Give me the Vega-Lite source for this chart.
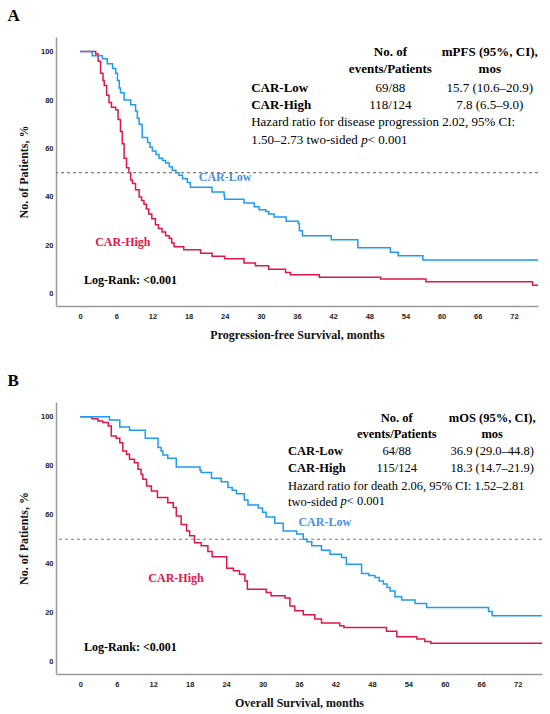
{
  "$schema": "https://vega.github.io/schema/vega-lite/v6.json",
  "background": "white",
  "padding": {"left": 7, "top": 7, "right": 5, "bottom": 5},
  "datasets": {
    "pfs": [
      {"group": "CAR-High", "month": 0, "pct": 100},
      {"group": "CAR-High", "month": 2.6, "pct": 99},
      {"group": "CAR-High", "month": 3.0, "pct": 96},
      {"group": "CAR-High", "month": 3.4, "pct": 91},
      {"group": "CAR-High", "month": 3.8, "pct": 88},
      {"group": "CAR-High", "month": 4.0, "pct": 86},
      {"group": "CAR-High", "month": 4.4, "pct": 82},
      {"group": "CAR-High", "month": 4.8, "pct": 79},
      {"group": "CAR-High", "month": 5.2, "pct": 77},
      {"group": "CAR-High", "month": 5.9, "pct": 76},
      {"group": "CAR-High", "month": 6.3, "pct": 72},
      {"group": "CAR-High", "month": 6.7, "pct": 67},
      {"group": "CAR-High", "month": 7.0, "pct": 62},
      {"group": "CAR-High", "month": 7.3, "pct": 56},
      {"group": "CAR-High", "month": 7.7, "pct": 52},
      {"group": "CAR-High", "month": 8.1, "pct": 50},
      {"group": "CAR-High", "month": 8.4, "pct": 47},
      {"group": "CAR-High", "month": 8.7, "pct": 45.5},
      {"group": "CAR-High", "month": 9.2, "pct": 43},
      {"group": "CAR-High", "month": 9.8, "pct": 40},
      {"group": "CAR-High", "month": 10.2, "pct": 38.5},
      {"group": "CAR-High", "month": 10.6, "pct": 37},
      {"group": "CAR-High", "month": 11.0, "pct": 35},
      {"group": "CAR-High", "month": 11.4, "pct": 33},
      {"group": "CAR-High", "month": 11.9, "pct": 31},
      {"group": "CAR-High", "month": 12.5, "pct": 28.5},
      {"group": "CAR-High", "month": 13.0, "pct": 27},
      {"group": "CAR-High", "month": 13.6, "pct": 25.5},
      {"group": "CAR-High", "month": 14.2, "pct": 24},
      {"group": "CAR-High", "month": 14.8, "pct": 23},
      {"group": "CAR-High", "month": 15.2, "pct": 21},
      {"group": "CAR-High", "month": 15.6, "pct": 19.5},
      {"group": "CAR-High", "month": 17.2, "pct": 18.2},
      {"group": "CAR-High", "month": 20.0, "pct": 16.8},
      {"group": "CAR-High", "month": 21.9, "pct": 15.5},
      {"group": "CAR-High", "month": 24.0, "pct": 14.5},
      {"group": "CAR-High", "month": 27.2, "pct": 12.7},
      {"group": "CAR-High", "month": 29.1, "pct": 11.6},
      {"group": "CAR-High", "month": 31.3, "pct": 10.2},
      {"group": "CAR-High", "month": 34.1, "pct": 8.8},
      {"group": "CAR-High", "month": 34.9, "pct": 7.9},
      {"group": "CAR-High", "month": 39.7, "pct": 6.9},
      {"group": "CAR-High", "month": 49.9, "pct": 6.1},
      {"group": "CAR-High", "month": 57.4, "pct": 5.0},
      {"group": "CAR-High", "month": 75.1, "pct": 3.6},
      {"group": "CAR-High", "month": 76, "pct": 3.6},
      {"group": "CAR-Low", "month": 0, "pct": 100},
      {"group": "CAR-Low", "month": 2.0, "pct": 98.3},
      {"group": "CAR-Low", "month": 3.7, "pct": 97},
      {"group": "CAR-Low", "month": 4.5, "pct": 95},
      {"group": "CAR-Low", "month": 5.4, "pct": 93},
      {"group": "CAR-Low", "month": 5.9, "pct": 91},
      {"group": "CAR-Low", "month": 6.2, "pct": 88},
      {"group": "CAR-Low", "month": 6.5, "pct": 85},
      {"group": "CAR-Low", "month": 6.7, "pct": 83},
      {"group": "CAR-Low", "month": 7.3, "pct": 80},
      {"group": "CAR-Low", "month": 8.4, "pct": 78},
      {"group": "CAR-Low", "month": 9.2, "pct": 75.5},
      {"group": "CAR-Low", "month": 9.5, "pct": 72.5},
      {"group": "CAR-Low", "month": 9.8, "pct": 70},
      {"group": "CAR-Low", "month": 10.3, "pct": 64.5},
      {"group": "CAR-Low", "month": 11.2, "pct": 62.5},
      {"group": "CAR-Low", "month": 11.6, "pct": 60.5},
      {"group": "CAR-Low", "month": 12.0, "pct": 59},
      {"group": "CAR-Low", "month": 12.6, "pct": 57.5},
      {"group": "CAR-Low", "month": 13.1, "pct": 56},
      {"group": "CAR-Low", "month": 13.7, "pct": 55},
      {"group": "CAR-Low", "month": 14.2, "pct": 54},
      {"group": "CAR-Low", "month": 14.8, "pct": 52.5},
      {"group": "CAR-Low", "month": 15.3, "pct": 51},
      {"group": "CAR-Low", "month": 15.9, "pct": 50},
      {"group": "CAR-Low", "month": 16.4, "pct": 49},
      {"group": "CAR-Low", "month": 17.0, "pct": 47.5},
      {"group": "CAR-Low", "month": 17.8, "pct": 46},
      {"group": "CAR-Low", "month": 18.3, "pct": 44},
      {"group": "CAR-Low", "month": 21.9, "pct": 42},
      {"group": "CAR-Low", "month": 23.9, "pct": 40.5},
      {"group": "CAR-Low", "month": 24.0, "pct": 39},
      {"group": "CAR-Low", "month": 27.2, "pct": 37.5},
      {"group": "CAR-Low", "month": 28.9, "pct": 36},
      {"group": "CAR-Low", "month": 29.7, "pct": 34.7},
      {"group": "CAR-Low", "month": 30.8, "pct": 34},
      {"group": "CAR-Low", "month": 31.3, "pct": 33},
      {"group": "CAR-Low", "month": 32.2, "pct": 31.7},
      {"group": "CAR-Low", "month": 34.2, "pct": 30},
      {"group": "CAR-Low", "month": 36.2, "pct": 29},
      {"group": "CAR-Low", "month": 36.4, "pct": 26},
      {"group": "CAR-Low", "month": 36.9, "pct": 24},
      {"group": "CAR-Low", "month": 41.7, "pct": 22.3},
      {"group": "CAR-Low", "month": 46.1, "pct": 19},
      {"group": "CAR-Low", "month": 51.5, "pct": 17.2},
      {"group": "CAR-Low", "month": 52.8, "pct": 15.7},
      {"group": "CAR-Low", "month": 56.9, "pct": 14},
      {"group": "CAR-Low", "month": 76, "pct": 14}
    ],
    "os": [
      {"group": "CAR-High", "month": 0, "pct": 100},
      {"group": "CAR-High", "month": 1.9, "pct": 99.2},
      {"group": "CAR-High", "month": 2.9, "pct": 98.2},
      {"group": "CAR-High", "month": 3.7, "pct": 97.6},
      {"group": "CAR-High", "month": 4.6, "pct": 96.2},
      {"group": "CAR-High", "month": 5.1, "pct": 92.1},
      {"group": "CAR-High", "month": 5.9, "pct": 91.2},
      {"group": "CAR-High", "month": 6.5, "pct": 89.4},
      {"group": "CAR-High", "month": 7.0, "pct": 86},
      {"group": "CAR-High", "month": 7.6, "pct": 84.7},
      {"group": "CAR-High", "month": 8.1, "pct": 82.6},
      {"group": "CAR-High", "month": 8.9, "pct": 81.2},
      {"group": "CAR-High", "month": 9.5, "pct": 78.6},
      {"group": "CAR-High", "month": 10.0, "pct": 76.5},
      {"group": "CAR-High", "month": 10.3, "pct": 74.5},
      {"group": "CAR-High", "month": 10.9, "pct": 71.7},
      {"group": "CAR-High", "month": 11.7, "pct": 69.7},
      {"group": "CAR-High", "month": 12.7, "pct": 67},
      {"group": "CAR-High", "month": 14.4, "pct": 64.9},
      {"group": "CAR-High", "month": 15.3, "pct": 62.9},
      {"group": "CAR-High", "month": 15.8, "pct": 59.5},
      {"group": "CAR-High", "month": 16.6, "pct": 56},
      {"group": "CAR-High", "month": 17.5, "pct": 53.4},
      {"group": "CAR-High", "month": 18.0, "pct": 51.4},
      {"group": "CAR-High", "month": 18.8, "pct": 48.6},
      {"group": "CAR-High", "month": 19.9, "pct": 47.3},
      {"group": "CAR-High", "month": 21.0, "pct": 45},
      {"group": "CAR-High", "month": 21.7, "pct": 42.8},
      {"group": "CAR-High", "month": 24.1, "pct": 38.2},
      {"group": "CAR-High", "month": 25.2, "pct": 37.1},
      {"group": "CAR-High", "month": 26.2, "pct": 35.7},
      {"group": "CAR-High", "month": 27.1, "pct": 33},
      {"group": "CAR-High", "month": 27.5, "pct": 29.6},
      {"group": "CAR-High", "month": 30.6, "pct": 28.3},
      {"group": "CAR-High", "month": 31.4, "pct": 26.9},
      {"group": "CAR-High", "month": 33.7, "pct": 26},
      {"group": "CAR-High", "month": 34.5, "pct": 22.8},
      {"group": "CAR-High", "month": 35.3, "pct": 20.8},
      {"group": "CAR-High", "month": 36.7, "pct": 19.2},
      {"group": "CAR-High", "month": 38.6, "pct": 17.4},
      {"group": "CAR-High", "month": 39.7, "pct": 15.8},
      {"group": "CAR-High", "month": 42.7, "pct": 14.7},
      {"group": "CAR-High", "month": 43.4, "pct": 14.0},
      {"group": "CAR-High", "month": 50.4, "pct": 12.4},
      {"group": "CAR-High", "month": 52.1, "pct": 10.2},
      {"group": "CAR-High", "month": 55.4, "pct": 9.3},
      {"group": "CAR-High", "month": 56.7, "pct": 8.3},
      {"group": "CAR-High", "month": 57.7, "pct": 7.5},
      {"group": "CAR-High", "month": 76, "pct": 7.5},
      {"group": "CAR-Low", "month": 0, "pct": 100},
      {"group": "CAR-Low", "month": 4.8, "pct": 98.7},
      {"group": "CAR-Low", "month": 6.5, "pct": 95.8},
      {"group": "CAR-Low", "month": 8.1, "pct": 94.5},
      {"group": "CAR-Low", "month": 10.7, "pct": 91.2},
      {"group": "CAR-Low", "month": 12.8, "pct": 87.4},
      {"group": "CAR-Low", "month": 13.3, "pct": 86},
      {"group": "CAR-Low", "month": 13.6, "pct": 84.4},
      {"group": "CAR-Low", "month": 14.4, "pct": 83},
      {"group": "CAR-Low", "month": 15.8, "pct": 79.5},
      {"group": "CAR-Low", "month": 19.7, "pct": 78.1},
      {"group": "CAR-Low", "month": 19.9, "pct": 77.2},
      {"group": "CAR-Low", "month": 21.6, "pct": 74.9},
      {"group": "CAR-Low", "month": 23.2, "pct": 73.5},
      {"group": "CAR-Low", "month": 24.3, "pct": 71.1},
      {"group": "CAR-Low", "month": 25.0, "pct": 70},
      {"group": "CAR-Low", "month": 25.7, "pct": 68.6},
      {"group": "CAR-Low", "month": 27.0, "pct": 66},
      {"group": "CAR-Low", "month": 27.6, "pct": 64},
      {"group": "CAR-Low", "month": 29.3, "pct": 62.7},
      {"group": "CAR-Low", "month": 30.0, "pct": 61},
      {"group": "CAR-Low", "month": 30.6, "pct": 59.1},
      {"group": "CAR-Low", "month": 32.0, "pct": 56.5},
      {"group": "CAR-Low", "month": 33.4, "pct": 53.4},
      {"group": "CAR-Low", "month": 35.6, "pct": 52.1},
      {"group": "CAR-Low", "month": 36.7, "pct": 50},
      {"group": "CAR-Low", "month": 37.3, "pct": 49},
      {"group": "CAR-Low", "month": 38.1, "pct": 47.3},
      {"group": "CAR-Low", "month": 39.7, "pct": 45.5},
      {"group": "CAR-Low", "month": 41.1, "pct": 43.9},
      {"group": "CAR-Low", "month": 43.0, "pct": 42.5},
      {"group": "CAR-Low", "month": 43.8, "pct": 39.8},
      {"group": "CAR-Low", "month": 46.3, "pct": 36},
      {"group": "CAR-Low", "month": 47.5, "pct": 35.2},
      {"group": "CAR-Low", "month": 48.5, "pct": 34.4},
      {"group": "CAR-Low", "month": 49.2, "pct": 33},
      {"group": "CAR-Low", "month": 49.9, "pct": 31.7},
      {"group": "CAR-Low", "month": 50.5, "pct": 30.3},
      {"group": "CAR-Low", "month": 51.0, "pct": 28.9},
      {"group": "CAR-Low", "month": 51.8, "pct": 26.5},
      {"group": "CAR-Low", "month": 52.9, "pct": 25.2},
      {"group": "CAR-Low", "month": 55.1, "pct": 23.8},
      {"group": "CAR-Low", "month": 57.0, "pct": 22.1},
      {"group": "CAR-Low", "month": 67.2, "pct": 20.5},
      {"group": "CAR-Low", "month": 67.8, "pct": 18.8},
      {"group": "CAR-Low", "month": 76, "pct": 18.8}
    ]
  },
  "spacing": 31,
  "vconcat": [
    {
      "width": 482,
      "height": 269,
      "title": {"text": "A", "anchor": "start", "font": "Liberation Serif", "fontSize": 17, "fontWeight": "bold", "color": "black", "offset": 12, "dx": -10},
      "layer": [
        {
          "data": {"name": "pfs"},
          "mark": {"type": "line", "interpolate": "step-after", "strokeWidth": 1.5},
          "encoding": {
            "x": {"field": "month", "type": "quantitative", "title": "Progression-free Survival, months",
                  "scale": {"domain": [-4, 76], "nice": false, "zero": false},
                  "axis": {"values": [0, 6, 12, 18, 24, 30, 36, 42, 48, 54, 60, 66, 72]}},
            "y": {"field": "pct", "type": "quantitative", "title": "No. of Patients, %",
                  "scale": {"domain": [-5, 106], "nice": false, "zero": false},
                  "axis": {"values": [0, 10, 20, 30, 40, 50, 60, 70, 80, 90, 100]}},
            "color": {"field": "group", "type": "nominal", "legend": null,
                      "scale": {"domain": ["CAR-Low", "CAR-High"], "range": ["#1f9bef", "#e0164a"]}}
          }
        },
        {
          "data": {"values": [{}]},
          "mark": {"type": "rule", "stroke": "#7a7a7a", "strokeDash": [3, 3], "strokeWidth": 1.2},
          "encoding": {"y": {"datum": 50}}
        },
        {
          "data": {"values": [{}]},
          "mark": {"type": "text", "font": "Liberation Serif", "fontSize": 13, "fontWeight": "bold", "align": "center", "lineBreak": "\n", "lineHeight": 16.7, "color": "black"},
          "encoding": {"x": {"datum": 51.5}, "y": {"datum": 99.85}, "text": {"value": "No. of\nevents/Patients"}}
        },
        {
          "data": {"values": [{}]},
          "mark": {"type": "text", "font": "Liberation Serif", "fontSize": 13, "fontWeight": "bold", "align": "center", "lineBreak": "\n", "lineHeight": 16.7, "color": "black"},
          "encoding": {"x": {"datum": 68.0}, "y": {"datum": 99.85}, "text": {"value": "mPFS (95%, CI),\nmos"}}
        },
        {
          "data": {"values": [{}]},
          "mark": {"type": "text", "font": "Liberation Serif", "fontSize": 13, "fontWeight": "bold", "align": "left", "lineBreak": "\n", "lineHeight": 17.3, "color": "black"},
          "encoding": {"x": {"datum": 28.4}, "y": {"datum": 85.0}, "text": {"value": "CAR-Low\nCAR-High"}}
        },
        {
          "data": {"values": [{}]},
          "mark": {"type": "text", "font": "Liberation Serif", "fontSize": 13, "align": "center", "lineBreak": "\n", "lineHeight": 17.3, "color": "black"},
          "encoding": {"x": {"datum": 51.5}, "y": {"datum": 85.0}, "text": {"value": "69/88\n118/124"}}
        },
        {
          "data": {"values": [{}]},
          "mark": {"type": "text", "font": "Liberation Serif", "fontSize": 13, "align": "center", "lineBreak": "\n", "lineHeight": 17.3, "color": "black"},
          "encoding": {"x": {"datum": 68.0}, "y": {"datum": 85.0}, "text": {"value": "15.7 (10.6–20.9)\n7.8 (6.5–9.0)"}}
        },
        {
          "data": {"values": [{}]},
          "mark": {"type": "text", "font": "Liberation Serif", "fontSize": 13, "align": "left", "lineBreak": "\n", "lineHeight": 17.7, "color": "black"},
          "encoding": {"x": {"datum": 28.4}, "y": {"datum": 70.9}, "text": {"value": "Hazard ratio for disease progression 2.02, 95% CI:\n1.50–2.73 two-sided"}}
        },
        {
          "data": {"values": [{}]},
          "mark": {"type": "text", "font": "Liberation Serif", "fontSize": 13, "fontStyle": "italic", "align": "left", "dx": 110, "color": "black"},
          "encoding": {"x": {"datum": 28.4}, "y": {"datum": 63.6}, "text": {"value": "p"}}
        },
        {
          "data": {"values": [{}]},
          "mark": {"type": "text", "font": "Liberation Serif", "fontSize": 13, "align": "left", "dx": 116.5, "color": "black"},
          "encoding": {"x": {"datum": 28.4}, "y": {"datum": 63.6}, "text": {"value": "< 0.001"}}
        },
        {
          "data": {"values": [{}]},
          "mark": {"type": "text", "font": "Liberation Serif", "fontSize": 12, "fontWeight": "bold", "align": "left", "baseline": "middle", "color": "#4a8fe2"},
          "encoding": {"x": {"datum": 19.7}, "y": {"datum": 48.2}, "text": {"value": "CAR-Low"}}
        },
        {
          "data": {"values": [{}]},
          "mark": {"type": "text", "font": "Liberation Serif", "fontSize": 12, "fontWeight": "bold", "align": "left", "baseline": "middle", "color": "#e0164a"},
          "encoding": {"x": {"datum": 2.5}, "y": {"datum": 21.6}, "text": {"value": "CAR-High"}}
        },
        {
          "data": {"values": [{}]},
          "mark": {"type": "text", "font": "Liberation Serif", "fontSize": 12, "fontWeight": "bold", "align": "left", "baseline": "middle", "color": "black"},
          "encoding": {"x": {"datum": 0.66}, "y": {"datum": 5.8}, "text": {"value": "Log-Rank: <0.001"}}
        }
      ]
    },
    {
      "width": 486,
      "height": 272,
      "title": {"text": "B", "anchor": "start", "font": "Liberation Serif", "fontSize": 17, "fontWeight": "bold", "color": "black", "offset": 12, "dx": -10},
      "layer": [
        {
          "data": {"name": "os"},
          "mark": {"type": "line", "interpolate": "step-after", "strokeWidth": 1.5},
          "encoding": {
            "x": {"field": "month", "type": "quantitative", "title": "Overall Survival, months",
                  "scale": {"domain": [-4, 76], "nice": false, "zero": false},
                  "axis": {"values": [0, 6, 12, 18, 24, 30, 36, 42, 48, 54, 60, 66, 72]}},
            "y": {"field": "pct", "type": "quantitative", "title": "No. of Patients, %",
                  "scale": {"domain": [-5, 106], "nice": false, "zero": false},
                  "axis": {"values": [0, 10, 20, 30, 40, 50, 60, 70, 80, 90, 100]}},
            "color": {"field": "group", "type": "nominal", "legend": null,
                      "scale": {"domain": ["CAR-Low", "CAR-High"], "range": ["#1f9bef", "#e0164a"]}}
          }
        },
        {
          "data": {"values": [{}]},
          "mark": {"type": "rule", "stroke": "#7a7a7a", "strokeDash": [3, 3], "strokeWidth": 1.2},
          "encoding": {"y": {"datum": 50}}
        },
        {
          "data": {"values": [{}]},
          "mark": {"type": "text", "font": "Liberation Serif", "fontSize": 12.5, "fontWeight": "bold", "align": "center", "lineBreak": "\n", "lineHeight": 15.6, "color": "black"},
          "encoding": {"x": {"datum": 52.1}, "y": {"datum": 99.3}, "text": {"value": "No. of\nevents/Patients"}}
        },
        {
          "data": {"values": [{}]},
          "mark": {"type": "text", "font": "Liberation Serif", "fontSize": 12.5, "fontWeight": "bold", "align": "center", "lineBreak": "\n", "lineHeight": 15.6, "color": "black"},
          "encoding": {"x": {"datum": 67.8}, "y": {"datum": 99.3}, "text": {"value": "mOS (95%, CI),\nmos"}}
        },
        {
          "data": {"values": [{}]},
          "mark": {"type": "text", "font": "Liberation Serif", "fontSize": 12.5, "fontWeight": "bold", "align": "left", "lineBreak": "\n", "lineHeight": 16.7, "color": "black"},
          "encoding": {"x": {"datum": 34.2}, "y": {"datum": 85.8}, "text": {"value": "CAR-Low\nCAR-High"}}
        },
        {
          "data": {"values": [{}]},
          "mark": {"type": "text", "font": "Liberation Serif", "fontSize": 12.5, "align": "center", "lineBreak": "\n", "lineHeight": 16.7, "color": "black"},
          "encoding": {"x": {"datum": 52.1}, "y": {"datum": 85.8}, "text": {"value": "64/88\n115/124"}}
        },
        {
          "data": {"values": [{}]},
          "mark": {"type": "text", "font": "Liberation Serif", "fontSize": 12.5, "align": "center", "lineBreak": "\n", "lineHeight": 16.7, "color": "black"},
          "encoding": {"x": {"datum": 67.8}, "y": {"datum": 85.8}, "text": {"value": "36.9 (29.0–44.8)\n18.3 (14.7–21.9)"}}
        },
        {
          "data": {"values": [{}]},
          "mark": {"type": "text", "font": "Liberation Serif", "fontSize": 12.5, "align": "left", "lineBreak": "\n", "lineHeight": 16, "color": "black"},
          "encoding": {"x": {"datum": 34.2}, "y": {"datum": 71.9}, "text": {"value": "Hazard ratio for death 2.06, 95% CI: 1.52–2.81\ntwo-sided"}}
        },
        {
          "data": {"values": [{}]},
          "mark": {"type": "text", "font": "Liberation Serif", "fontSize": 12.5, "fontStyle": "italic", "align": "left", "dx": 52.4, "color": "black"},
          "encoding": {"x": {"datum": 34.2}, "y": {"datum": 65.4}, "text": {"value": "p"}}
        },
        {
          "data": {"values": [{}]},
          "mark": {"type": "text", "font": "Liberation Serif", "fontSize": 12.5, "align": "left", "dx": 58.7, "color": "black"},
          "encoding": {"x": {"datum": 34.2}, "y": {"datum": 65.4}, "text": {"value": "< 0.001"}}
        },
        {
          "data": {"values": [{}]},
          "mark": {"type": "text", "font": "Liberation Serif", "fontSize": 12, "fontWeight": "bold", "align": "left", "baseline": "middle", "color": "#4a8fe2"},
          "encoding": {"x": {"datum": 35.9}, "y": {"datum": 57.2}, "text": {"value": "CAR-Low"}}
        },
        {
          "data": {"values": [{}]},
          "mark": {"type": "text", "font": "Liberation Serif", "fontSize": 12, "fontWeight": "bold", "align": "left", "baseline": "middle", "color": "#e0164a"},
          "encoding": {"x": {"datum": 11.2}, "y": {"datum": 34.1}, "text": {"value": "CAR-High"}}
        },
        {
          "data": {"values": [{}]},
          "mark": {"type": "text", "font": "Liberation Serif", "fontSize": 12, "fontWeight": "bold", "align": "left", "baseline": "middle", "color": "black"},
          "encoding": {"x": {"datum": 0.6}, "y": {"datum": 6.2}, "text": {"value": "Log-Rank: <0.001"}}
        }
      ]
    }
  ],
  "config": {
    "view": {"stroke": null},
    "axis": {
      "domainColor": "#9a9a9a",
      "domainWidth": 1.5,
      "ticks": false,
      "grid": false,
      "labelOverlap": false,
      "labelFont": "Liberation Sans",
      "labelFontWeight": "bold",
      "labelFontSize": 7.5,
      "labelColor": "#222222",
      "titleFont": "Liberation Serif",
      "titleFontSize": 12,
      "titleFontWeight": "bold",
      "titleColor": "#111111"
    },
    "axisX": {"labelPadding": 6, "titlePadding": 10},
    "axisY": {"labelPadding": 3, "titlePadding": 10}
  }
}
